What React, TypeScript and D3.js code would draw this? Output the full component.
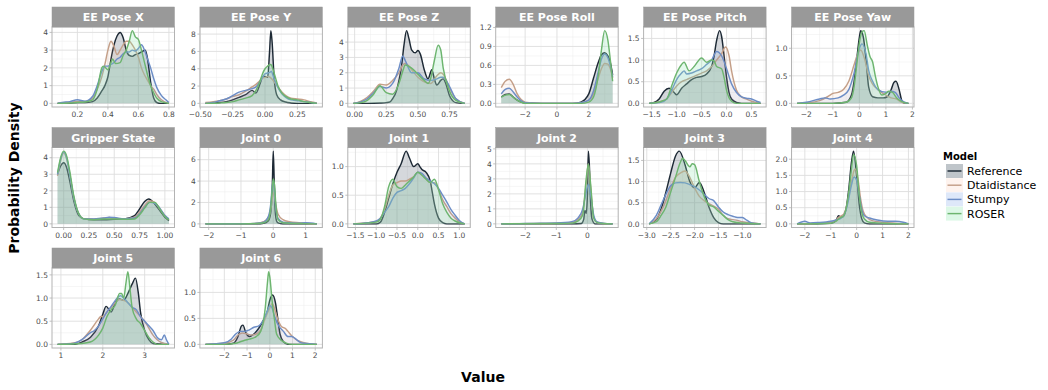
import React from "react";
import * as d3 from "d3";

type Pt = [number, number];

// models, drawn in this order
const models = ["Reference", "Dtaidistance", "Stumpy", "ROSER"];
const lineColors = ["#1d2935", "#c49f88", "#6c8dc6", "#6db56f"];
const fillColors = ["#2c3e50", "#f5b08a", "#5b8ee0", "#90e8b0"];
const fillAlpha = [0.2, 0.1, 0.09, 0.24];
const keyAlpha = [0.3, 0.15, 0.2, 0.3];

// ---- EE Pose X ----
const poseXRef: Pt[] = [[0.07,0],[0.1,0.01],[0.15,0.02],[0.2,0.05],[0.25,0.05],[0.3,0.1],[0.33,0.3],[0.36,0.7],[0.38,1.0],[0.4,1.5],[0.42,2.5],[0.44,3.3],[0.46,3.8],[0.48,4.0],[0.5,3.7],[0.52,3.0],[0.54,2.7],[0.56,2.65],[0.58,2.75],[0.6,2.8],[0.62,2.9],[0.645,3.0],[0.66,2.5],[0.68,1.2],[0.7,0.3],[0.72,0.05],[0.75,0],[0.8,0]];
const poseXDtw: Pt[] = [[0.07,0],[0.1,0.03],[0.15,0.06],[0.2,0.1],[0.25,0.1],[0.3,0.3],[0.33,0.8],[0.36,1.5],[0.38,2.2],[0.4,3.0],[0.42,3.5],[0.44,3.2],[0.46,2.75],[0.48,3.0],[0.5,3.3],[0.52,3.5],[0.54,3.5],[0.56,3.3],[0.58,3.0],[0.6,2.6],[0.62,2.0],[0.64,1.6],[0.66,1.3],[0.68,1.0],[0.7,0.8],[0.72,0.5],[0.75,0.2],[0.8,0]];
const poseXStumpy: Pt[] = [[0.07,0],[0.1,0.05],[0.15,0.1],[0.2,0.2],[0.25,0.12],[0.3,0.4],[0.33,1.0],[0.36,1.8],[0.38,2.1],[0.4,2.1],[0.42,2.2],[0.44,2.3],[0.46,2.5],[0.48,2.6],[0.5,2.8],[0.52,2.9],[0.54,2.9],[0.56,3.0],[0.58,2.95],[0.6,3.1],[0.62,3.3],[0.64,3.0],[0.66,2.5],[0.68,2.0],[0.7,1.4],[0.72,0.9],[0.75,0.45],[0.78,0.2],[0.8,0.05]];
const poseXRoser: Pt[] = [[0.07,0],[0.15,0.02],[0.2,0.05],[0.25,0.08],[0.3,0.2],[0.33,0.8],[0.36,2.0],[0.37,2.1],[0.38,2.05],[0.4,1.9],[0.42,2.3],[0.43,2.5],[0.45,2.25],[0.48,2.3],[0.5,2.7],[0.52,3.0],[0.54,3.5],[0.56,4.1],[0.58,3.75],[0.6,3.6],[0.62,3.0],[0.64,2.3],[0.66,1.6],[0.68,1.0],[0.7,0.6],[0.72,0.3],[0.75,0.1],[0.8,0]];

// ---- EE Pose Y ----
const poseYRef: Pt[] = [[-0.46,0],[-0.4,0.05],[-0.35,0.1],[-0.3,0.2],[-0.25,0.4],[-0.2,0.7],[-0.15,1.0],[-0.1,1.5],[-0.07,1.2],[-0.04,2.2],[-0.02,3.0],[0,3.1],[0.02,3.0],[0.035,6.0],[0.045,8.4],[0.055,7.0],[0.07,3.0],[0.09,1.0],[0.12,0.4],[0.16,0.15],[0.2,0.05],[0.25,0],[0.4,0]];
const poseYDtw: Pt[] = [[-0.46,0.1],[-0.4,0.2],[-0.35,0.3],[-0.3,0.5],[-0.25,0.8],[-0.2,1.0],[-0.15,1.4],[-0.1,1.9],[-0.07,2.2],[-0.04,2.6],[-0.02,2.9],[0,3.0],[0.02,3.1],[0.04,3.0],[0.06,2.7],[0.08,2.3],[0.1,1.9],[0.13,1.3],[0.16,0.9],[0.2,0.6],[0.25,0.5],[0.3,0.4],[0.35,0.2],[0.4,0.05]];
const poseYStumpy: Pt[] = [[-0.46,0],[-0.4,0.1],[-0.35,0.3],[-0.3,0.5],[-0.25,0.9],[-0.2,1.3],[-0.15,1.5],[-0.1,1.7],[-0.07,1.9],[-0.04,2.5],[-0.02,3.0],[0,3.4],[0.02,3.5],[0.04,3.6],[0.05,3.7],[0.06,3.3],[0.08,2.5],[0.1,1.8],[0.13,1.1],[0.16,0.7],[0.2,0.4],[0.25,0.3],[0.3,0.2],[0.35,0.1],[0.4,0]];
const poseYRoser: Pt[] = [[-0.46,0],[-0.35,0.05],[-0.3,0.1],[-0.25,0.2],[-0.2,0.4],[-0.15,0.6],[-0.1,0.9],[-0.07,1.5],[-0.04,2.5],[-0.02,3.4],[0,4.0],[0.02,4.3],[0.04,4.5],[0.05,4.4],[0.06,4.0],[0.08,3.0],[0.1,2.0],[0.13,1.2],[0.16,0.8],[0.2,0.5],[0.25,0.4],[0.3,0.2],[0.35,0.1],[0.4,0]];

// ---- EE Pose Z ----
const poseZRef: Pt[] = [[-0.01,0],[0.1,0],[0.2,0.02],[0.25,0.05],[0.28,0.1],[0.3,0.3],[0.33,0.8],[0.35,1.5],[0.37,2.4],[0.39,3.8],[0.41,4.75],[0.43,4.2],[0.45,3.5],[0.48,3.3],[0.5,3.45],[0.52,3.2],[0.55,2.2],[0.58,1.6],[0.61,2.2],[0.63,1.6],[0.65,1.2],[0.68,1.5],[0.7,1.6],[0.72,1.3],[0.75,0.5],[0.8,0.05],[0.87,0]];
const poseZDtw: Pt[] = [[-0.01,0],[0.05,0.15],[0.1,0.4],[0.15,0.8],[0.2,1.25],[0.25,1.2],[0.3,1.5],[0.35,2.0],[0.38,2.5],[0.4,2.6],[0.45,2.2],[0.5,1.7],[0.55,1.4],[0.6,1.3],[0.65,1.8],[0.68,2.0],[0.7,1.9],[0.75,1.0],[0.8,0.3],[0.87,0]];
const poseZStumpy: Pt[] = [[-0.01,0],[0.05,0.1],[0.1,0.3],[0.15,0.7],[0.2,1.1],[0.25,1.0],[0.3,1.3],[0.35,2.3],[0.38,3.1],[0.4,2.8],[0.45,2.0],[0.5,2.0],[0.55,1.6],[0.6,1.5],[0.65,1.6],[0.68,1.7],[0.7,1.7],[0.75,1.1],[0.8,0.3],[0.87,0]];
const poseZRoser: Pt[] = [[-0.01,0],[0.05,0.05],[0.1,0.2],[0.15,0.6],[0.2,1.15],[0.25,0.7],[0.3,0.6],[0.35,1.3],[0.38,2.1],[0.4,2.5],[0.45,2.3],[0.5,1.9],[0.55,1.5],[0.58,1.3],[0.6,1.6],[0.63,2.8],[0.66,3.8],[0.68,3.5],[0.7,2.3],[0.75,0.8],[0.8,0.2],[0.87,0]];

// ---- EE Pose Roll ----
const rollRef: Pt[] = [[-3.5,0.1],[-3.25,0.14],[-3.0,0.15],[-2.75,0.1],[-2.5,0.05],[-2.25,0.02],[-2,0.01],[-1,0],[0,0],[1,0],[1.5,0.02],[2,0.15],[2.3,0.4],[2.6,0.65],[2.8,0.77],[3.0,0.8],[3.2,0.75],[3.35,0.65],[3.5,0.45]];
const rollDtw: Pt[] = [[-3.5,0.25],[-3.25,0.35],[-3.0,0.38],[-2.75,0.3],[-2.5,0.15],[-2.25,0.06],[-2,0.02],[-1,0],[0,0],[1,0],[1.5,0.01],[2,0.05],[2.3,0.15],[2.6,0.4],[2.8,0.55],[3.0,0.63],[3.2,0.62],[3.35,0.55],[3.5,0.4]];
const rollStumpy: Pt[] = [[-3.5,0.15],[-3.25,0.22],[-3.0,0.24],[-2.75,0.18],[-2.5,0.1],[-2.25,0.04],[-2,0.01],[-1,0],[0,0],[1,0],[1.5,0.01],[2,0.05],[2.3,0.2],[2.6,0.5],[2.8,0.7],[3.0,0.78],[3.2,0.72],[3.35,0.6],[3.5,0.42]];
const rollRoser: Pt[] = [[-3.5,0.1],[-3.25,0.13],[-3.0,0.14],[-2.75,0.1],[-2.5,0.05],[-2.25,0.02],[-2,0],[0,0],[1.5,0],[2,0.02],[2.3,0.1],[2.6,0.45],[2.8,0.85],[3.0,1.15],[3.2,1.0],[3.35,0.7],[3.5,0.35]];

// ---- EE Pose Pitch ----
const pitchRef: Pt[] = [[-1.55,0],[-1.45,0.02],[-1.35,0.1],[-1.25,0.28],[-1.15,0.35],[-1.05,0.25],[-1.0,0.2],[-0.9,0.35],[-0.8,0.45],[-0.7,0.55],[-0.6,0.6],[-0.5,0.62],[-0.4,0.68],[-0.3,0.85],[-0.25,1.1],[-0.2,1.45],[-0.14,1.68],[-0.1,1.55],[-0.05,1.1],[0,0.6],[0.05,0.25],[0.1,0.1],[0.2,0.02],[0.3,0],[0.68,0]];
const pitchDtw: Pt[] = [[-1.55,0],[-1.3,0.05],[-1.2,0.1],[-1.1,0.25],[-1.0,0.4],[-0.9,0.5],[-0.8,0.55],[-0.7,0.6],[-0.6,0.65],[-0.5,0.7],[-0.4,0.75],[-0.3,0.85],[-0.2,1.0],[-0.1,1.15],[-0.02,1.3],[0.05,1.1],[0.1,0.75],[0.2,0.3],[0.3,0.15],[0.4,0.1],[0.5,0.05],[0.68,0]];
const pitchStumpy: Pt[] = [[-1.55,0],[-1.3,0.03],[-1.2,0.1],[-1.1,0.3],[-1.0,0.55],[-0.9,0.7],[-0.85,0.75],[-0.8,0.68],[-0.7,0.7],[-0.6,0.75],[-0.5,0.8],[-0.4,0.9],[-0.3,1.0],[-0.2,1.2],[-0.1,1.1],[0,0.8],[0.1,0.45],[0.2,0.25],[0.3,0.15],[0.4,0.12],[0.5,0.1],[0.6,0.05],[0.68,0.02]];
const pitchRoser: Pt[] = [[-1.55,0],[-1.3,0.05],[-1.2,0.1],[-1.1,0.4],[-1.0,0.7],[-0.9,0.9],[-0.85,0.95],[-0.75,0.75],[-0.65,0.85],[-0.5,1.05],[-0.4,0.95],[-0.3,1.0],[-0.25,0.98],[-0.2,0.85],[-0.1,0.8],[-0.05,0.6],[0,0.3],[0.1,0.05],[0.2,0],[0.68,0]];

// ---- EE Pose Yaw ----
const yawRef: Pt[] = [[-2.35,0],[-1,0],[-0.5,0.02],[-0.3,0.15],[-0.2,0.4],[-0.1,0.8],[0,1.2],[0.05,1.32],[0.15,1.2],[0.25,0.8],[0.35,0.3],[0.5,0.12],[0.7,0.1],[0.9,0.1],[1.05,0.12],[1.2,0.25],[1.3,0.38],[1.38,0.4],[1.5,0.25],[1.6,0.05],[1.7,0],[1.85,0]];
const yawDtw: Pt[] = [[-2.35,0],[-2,0.01],[-1.5,0.05],[-1.2,0.12],[-1.0,0.18],[-0.8,0.2],[-0.6,0.25],[-0.4,0.4],[-0.2,0.7],[-0.1,0.85],[0.05,0.97],[0.2,0.8],[0.35,0.5],[0.5,0.35],[0.7,0.25],[1.0,0.15],[1.2,0.1],[1.4,0.08],[1.6,0.02],[1.85,0]];
const yawStumpy: Pt[] = [[-2.35,0],[-2,0.02],[-1.5,0.08],[-1.3,0.1],[-1.1,0.08],[-0.8,0.1],[-0.6,0.15],[-0.4,0.25],[-0.2,0.55],[0,1.0],[0.1,1.08],[0.25,0.9],[0.35,0.6],[0.5,0.4],[0.7,0.25],[1.0,0.2],[1.2,0.22],[1.35,0.2],[1.5,0.1],[1.7,0.02],[1.85,0]];
const yawRoser: Pt[] = [[-2.35,0],[-1,0],[-0.5,0.02],[-0.3,0.1],[-0.2,0.3],[-0.1,0.7],[0,1.1],[0.1,1.3],[0.18,1.32],[0.3,1.05],[0.4,0.85],[0.5,0.75],[0.6,0.5],[0.7,0.3],[0.85,0.15],[1.0,0.18],[1.1,0.22],[1.25,0.2],[1.4,0.1],[1.6,0.03],[1.85,0]];

// ---- Gripper State ----
const gripRef: Pt[] = [[-0.06,3.0],[-0.03,3.5],[0,3.7],[0.03,3.4],[0.06,2.6],[0.1,1.4],[0.15,0.5],[0.2,0.3],[0.3,0.25],[0.4,0.25],[0.5,0.28],[0.6,0.3],[0.7,0.5],[0.75,0.9],[0.8,1.35],[0.84,1.5],[0.9,1.2],[0.95,0.8],[1.0,0.4],[1.04,0.2]];
const gripDtw: Pt[] = [[-0.06,2.9],[-0.03,3.8],[0,4.3],[0.03,3.9],[0.06,3.0],[0.1,1.6],[0.15,0.6],[0.2,0.3],[0.3,0.3],[0.4,0.35],[0.45,0.38],[0.5,0.35],[0.6,0.3],[0.7,0.4],[0.75,0.7],[0.8,1.1],[0.85,1.4],[0.9,1.3],[0.95,0.9],[1.0,0.5],[1.04,0.25]];
const gripStumpy: Pt[] = [[-0.06,3.0],[-0.03,3.9],[0,4.35],[0.03,4.0],[0.06,3.0],[0.1,1.6],[0.15,0.6],[0.2,0.3],[0.3,0.3],[0.4,0.35],[0.45,0.4],[0.5,0.38],[0.6,0.3],[0.7,0.35],[0.75,0.6],[0.8,1.0],[0.85,1.3],[0.9,1.25],[0.95,0.95],[1.0,0.5],[1.04,0.3]];
const gripRoser: Pt[] = [[-0.06,3.1],[-0.03,4.0],[0,4.4],[0.03,4.1],[0.06,3.2],[0.1,1.7],[0.15,0.6],[0.2,0.3],[0.3,0.25],[0.4,0.3],[0.5,0.3],[0.6,0.28],[0.7,0.3],[0.75,0.55],[0.8,0.95],[0.85,1.3],[0.9,1.3],[0.95,0.9],[1.0,0.45],[1.04,0.25]];

// ---- Joint 0 ----
const j0Ref: Pt[] = [[-2.1,0],[-0.5,0],[-0.3,0.05],[-0.15,0.3],[-0.08,1.0],[-0.03,3.5],[0,6.8],[0.03,4.0],[0.06,1.2],[0.1,0.3],[0.15,0.1],[0.3,0],[1.35,0]];
const j0Dtw: Pt[] = [[-2.1,0],[-1,0.02],[-0.5,0.05],[-0.3,0.2],[-0.15,0.6],[-0.08,1.3],[-0.03,2.3],[0,2.9],[0.04,2.6],[0.08,1.8],[0.15,0.9],[0.3,0.4],[0.5,0.2],[0.8,0.1],[1.0,0.05],[1.35,0]];
const j0Stumpy: Pt[] = [[-2.1,0],[-1,0.02],[-0.5,0.05],[-0.3,0.15],[-0.15,0.7],[-0.08,1.8],[-0.03,3.5],[0,4.0],[0.04,3.2],[0.08,1.5],[0.15,0.5],[0.3,0.15],[0.5,0.1],[0.8,0.05],[1.0,0.1],[1.35,0]];
const j0Roser: Pt[] = [[-2.1,0],[-1,0],[-0.5,0.03],[-0.3,0.1],[-0.15,0.4],[-0.08,1.5],[-0.03,3.3],[0,4.2],[0.04,3.6],[0.08,1.8],[0.15,0.4],[0.3,0.1],[0.5,0.05],[1.0,0.02],[1.35,0]];

// ---- Joint 1 ----
const j1Ref: Pt[] = [[-1.55,0],[-1.0,0],[-0.9,0.03],[-0.8,0.2],[-0.7,0.45],[-0.6,0.7],[-0.5,0.9],[-0.4,1.05],[-0.28,1.27],[-0.2,1.15],[-0.1,1.0],[0,1.05],[0.05,1.0],[0.1,0.95],[0.2,0.9],[0.3,0.75],[0.35,0.55],[0.4,0.35],[0.5,0.1],[0.6,0.02],[0.7,0],[1.13,0]];
const j1Dtw: Pt[] = [[-1.55,0],[-1.2,0.02],[-1.0,0.04],[-0.9,0.1],[-0.8,0.25],[-0.7,0.5],[-0.6,0.68],[-0.5,0.72],[-0.4,0.75],[-0.3,0.75],[-0.2,0.78],[-0.1,0.82],[0,0.9],[0.1,0.85],[0.2,0.78],[0.3,0.72],[0.4,0.72],[0.5,0.6],[0.6,0.42],[0.7,0.3],[0.8,0.18],[0.9,0.1],[1.0,0.04],[1.13,0]];
const j1Stumpy: Pt[] = [[-1.55,0],[-1.2,0.02],[-1.0,0.05],[-0.9,0.1],[-0.8,0.2],[-0.7,0.3],[-0.6,0.45],[-0.5,0.55],[-0.4,0.58],[-0.3,0.62],[-0.2,0.7],[-0.1,0.8],[0,0.9],[0.1,0.88],[0.2,0.8],[0.3,0.75],[0.4,0.7],[0.5,0.62],[0.6,0.5],[0.7,0.38],[0.8,0.25],[0.9,0.15],[1.0,0.06],[1.13,0]];
const j1Roser: Pt[] = [[-1.55,0],[-1.0,0.03],[-0.9,0.08],[-0.8,0.3],[-0.7,0.65],[-0.6,0.78],[-0.5,0.65],[-0.4,0.62],[-0.3,0.68],[-0.2,0.75],[-0.1,0.82],[0,0.9],[0.1,0.85],[0.2,0.78],[0.3,0.72],[0.4,0.78],[0.5,0.6],[0.6,0.35],[0.7,0.2],[0.8,0.1],[0.9,0.05],[1.0,0.02],[1.13,0]];

// ---- Joint 2 ----
const j2Ref: Pt[] = [[-2.77,0],[-0.5,0],[-0.2,0.02],[-0.12,0.3],[-0.08,0.9],[-0.04,0.7],[0,2.0],[0.03,4.85],[0.06,4.0],[0.1,1.5],[0.15,0.3],[0.25,0],[0.81,0]];
const j2Dtw: Pt[] = [[-2.77,0],[-1.5,0.02],[-1,0.04],[-0.5,0.1],[-0.3,0.3],[-0.15,0.8],[-0.05,2.5],[0.03,4.0],[0.1,2.5],[0.2,0.4],[0.3,0.1],[0.5,0.02],[0.81,0]];
const j2Stumpy: Pt[] = [[-2.77,0],[-2,0.02],[-1.5,0.04],[-1,0.06],[-0.5,0.15],[-0.3,0.4],[-0.15,1.0],[-0.05,2.0],[0.03,2.65],[0.1,2.0],[0.2,0.6],[0.3,0.15],[0.5,0.05],[0.81,0]];
const j2Roser: Pt[] = [[-2.77,0],[-1,0.02],[-0.5,0.05],[-0.3,0.2],[-0.15,0.6],[-0.05,2.8],[0.03,4.0],[0.1,2.7],[0.2,0.4],[0.3,0.1],[0.5,0.02],[0.81,0]];

// ---- Joint 3 ----
const j3Ref: Pt[] = [[-2.95,0],[-2.8,0.1],[-2.7,0.35],[-2.6,0.75],[-2.5,1.2],[-2.4,1.6],[-2.32,1.72],[-2.2,1.4],[-2.1,1.0],[-2.0,0.85],[-1.9,0.98],[-1.8,0.75],[-1.7,0.4],[-1.6,0.15],[-1.5,0.03],[-1.4,0],[-0.62,0]];
const j3Dtw: Pt[] = [[-2.95,0],[-2.8,0.12],[-2.7,0.3],[-2.6,0.55],[-2.5,0.85],[-2.4,1.1],[-2.3,1.2],[-2.2,1.25],[-2.1,1.1],[-2.0,0.85],[-1.9,0.65],[-1.8,0.55],[-1.7,0.48],[-1.6,0.42],[-1.5,0.35],[-1.4,0.2],[-1.3,0.12],[-1.2,0.1],[-1.1,0.08],[-1.0,0.05],[-0.8,0.02],[-0.62,0]];
const j3Stumpy: Pt[] = [[-2.95,0],[-2.8,0.2],[-2.7,0.45],[-2.6,0.7],[-2.5,0.9],[-2.4,0.97],[-2.3,0.98],[-2.2,0.97],[-2.1,0.93],[-2.0,0.88],[-1.9,0.8],[-1.8,0.7],[-1.7,0.6],[-1.6,0.55],[-1.5,0.4],[-1.4,0.28],[-1.3,0.22],[-1.2,0.18],[-1.1,0.15],[-1.0,0.15],[-0.9,0.08],[-0.8,0.02],[-0.62,0]];
const j3Roser: Pt[] = [[-2.95,0],[-2.8,0.05],[-2.7,0.2],[-2.6,0.4],[-2.5,0.75],[-2.4,1.1],[-2.3,1.45],[-2.25,1.55],[-2.2,1.5],[-2.1,1.35],[-2.05,1.42],[-2.0,1.4],[-1.9,1.0],[-1.8,0.65],[-1.7,0.45],[-1.6,0.4],[-1.5,0.3],[-1.4,0.2],[-1.3,0.1],[-1.2,0.05],[-1.0,0.02],[-0.62,0]];

// ---- Joint 4 ----
const j4Ref: Pt[] = [[-2.3,0],[-1,0.02],[-0.8,0.1],[-0.7,0.25],[-0.6,0.2],[-0.5,0.25],[-0.4,0.5],[-0.3,1.1],[-0.2,1.9],[-0.12,2.25],[0,1.5],[0.1,0.6],[0.2,0.15],[0.3,0.03],[0.5,0],[2.0,0]];
const j4Dtw: Pt[] = [[-2.3,0],[-1.5,0.02],[-1,0.05],[-0.8,0.12],[-0.7,0.2],[-0.6,0.25],[-0.5,0.3],[-0.4,0.5],[-0.3,0.9],[-0.2,1.3],[-0.1,1.65],[-0.05,1.7],[0.05,1.4],[0.15,0.8],[0.25,0.4],[0.4,0.2],[0.6,0.1],[1.0,0.05],[1.5,0.02],[2.0,0]];
const j4Stumpy: Pt[] = [[-2.3,0],[-2.0,0.08],[-1.8,0.03],[-1.5,0.04],[-1,0.08],[-0.8,0.12],[-0.6,0.18],[-0.5,0.25],[-0.4,0.45],[-0.3,0.8],[-0.2,1.2],[-0.1,1.45],[0,1.35],[0.1,0.9],[0.2,0.45],[0.3,0.25],[0.5,0.18],[0.8,0.12],[1.2,0.08],[1.5,0.08],[1.8,0.05],[2.0,0]];
const j4Roser: Pt[] = [[-2.3,0],[-1,0.02],[-0.8,0.08],[-0.7,0.15],[-0.6,0.2],[-0.5,0.25],[-0.4,0.5],[-0.3,1.0],[-0.2,1.7],[-0.12,2.15],[0,1.8],[0.1,0.9],[0.2,0.35],[0.3,0.15],[0.5,0.05],[1.0,0.02],[2.0,0]];

// ---- Joint 5 ----
const j5Ref: Pt[] = [[0.92,0],[1.3,0],[1.5,0.05],[1.7,0.15],[1.9,0.4],[2.0,0.65],[2.08,0.82],[2.2,0.7],[2.3,0.9],[2.4,0.98],[2.5,0.95],[2.6,1.1],[2.7,1.3],[2.78,1.43],[2.85,1.1],[2.9,0.7],[3.0,0.3],[3.1,0.1],[3.2,0.02],[3.58,0]];
const j5Dtw: Pt[] = [[0.92,0],[1.3,0.03],[1.5,0.1],[1.7,0.3],[1.9,0.55],[1.95,0.6],[2.0,0.6],[2.1,0.7],[2.2,0.8],[2.3,0.9],[2.4,0.97],[2.5,0.95],[2.6,0.9],[2.7,0.8],[2.8,0.7],[2.9,0.6],[3.0,0.5],[3.1,0.35],[3.2,0.2],[3.3,0.1],[3.4,0.04],[3.58,0]];
const j5Stumpy: Pt[] = [[0.92,0],[1.3,0.02],[1.5,0.1],[1.7,0.25],[1.8,0.3],[1.9,0.4],[2.0,0.55],[2.1,0.7],[2.2,0.82],[2.3,0.95],[2.42,1.05],[2.5,1.0],[2.6,0.9],[2.7,0.8],[2.8,0.75],[2.9,0.6],[3.0,0.5],[3.1,0.4],[3.2,0.3],[3.3,0.15],[3.4,0.1],[3.47,0.2],[3.52,0.1],[3.58,0]];
const j5Roser: Pt[] = [[0.92,0],[1.5,0.02],[1.7,0.05],[1.9,0.2],[2.0,0.35],[2.1,0.6],[2.2,0.75],[2.3,0.85],[2.4,1.1],[2.45,1.1],[2.5,1.0],[2.55,1.3],[2.6,1.57],[2.65,1.2],[2.7,0.8],[2.8,0.55],[2.9,0.45],[3.0,0.3],[3.1,0.15],[3.2,0.05],[3.3,0],[3.58,0]];

// ---- Joint 6 ----
const j6Ref: Pt[] = [[-2.83,0],[-2,0],[-1.6,0.02],[-1.4,0.15],[-1.25,0.35],[-1.18,0.37],[-1.05,0.22],[-0.9,0.15],[-0.7,0.2],[-0.5,0.3],[-0.3,0.45],[-0.1,0.65],[0,0.85],[0.12,0.95],[0.25,0.8],[0.35,0.5],[0.45,0.2],[0.6,0.05],[0.8,0],[2.07,0]];
const j6Dtw: Pt[] = [[-2.83,0],[-2,0.02],[-1.6,0.08],[-1.4,0.18],[-1.2,0.22],[-1.0,0.2],[-0.8,0.18],[-0.6,0.2],[-0.4,0.28],[-0.2,0.5],[0,0.7],[0.1,0.78],[0.2,0.7],[0.3,0.55],[0.5,0.35],[0.7,0.3],[0.8,0.25],[1.0,0.15],[1.2,0.08],[1.5,0.03],[2.07,0]];
const j6Stumpy: Pt[] = [[-2.83,0],[-2,0.03],[-1.7,0.1],[-1.5,0.2],[-1.3,0.25],[-1.1,0.25],[-0.9,0.28],[-0.7,0.33],[-0.5,0.35],[-0.3,0.45],[-0.1,0.65],[0,0.75],[0.1,0.7],[0.2,0.55],[0.4,0.35],[0.6,0.25],[0.8,0.15],[0.95,0.15],[1.1,0.12],[1.3,0.05],[1.5,0.02],[2.07,0]];
const j6Roser: Pt[] = [[-2.83,0],[-2,0],[-1.5,0.02],[-1.3,0.05],[-1.1,0.08],[-0.9,0.1],[-0.6,0.15],[-0.4,0.25],[-0.3,0.4],[-0.2,0.7],[-0.1,1.2],[-0.05,1.4],[0,1.3],[0.1,0.85],[0.2,0.5],[0.3,0.2],[0.5,0.08],[0.7,0.03],[1.0,0],[2.07,0]];

const panels = [
  { title: "EE Pose X", series: [poseXRef, poseXDtw, poseXStumpy, poseXRoser], xTicks: [0.2, 0.4, 0.6, 0.8], xFmt: ".1f", yTicks: [0, 1, 2, 3, 4], yFmt: "d" },
  { title: "EE Pose Y", series: [poseYRef, poseYDtw, poseYStumpy, poseYRoser], xTicks: [-0.5, -0.25, 0, 0.25], xFmt: ".2f", yTicks: [0, 2, 4, 6, 8], yFmt: "d" },
  { title: "EE Pose Z", series: [poseZRef, poseZDtw, poseZStumpy, poseZRoser], xTicks: [0, 0.25, 0.5, 0.75], xFmt: ".2f", yTicks: [0, 1, 2, 3, 4], yFmt: "d" },
  { title: "EE Pose Roll", series: [rollRef, rollDtw, rollStumpy, rollRoser], xTicks: [-2, 0, 2], xFmt: "d", yTicks: [0, 0.3, 0.6, 0.9, 1.2], yFmt: ".1f" },
  { title: "EE Pose Pitch", series: [pitchRef, pitchDtw, pitchStumpy, pitchRoser], xTicks: [-1.5, -1, -0.5, 0, 0.5], xFmt: ".1f", yTicks: [0, 0.5, 1, 1.5], yFmt: ".1f" },
  { title: "EE Pose Yaw", series: [yawRef, yawDtw, yawStumpy, yawRoser], xTicks: [-2, -1, 0, 1, 2], xFmt: "d", yTicks: [0, 0.5, 1], yFmt: ".1f" },
  { title: "Gripper State", series: [gripRef, gripDtw, gripStumpy, gripRoser], xTicks: [0, 0.25, 0.5, 0.75, 1], xFmt: ".2f", yTicks: [0, 1, 2, 3, 4], yFmt: "d" },
  { title: "Joint 0", series: [j0Ref, j0Dtw, j0Stumpy, j0Roser], xTicks: [-2, -1, 0, 1], xFmt: "d", yTicks: [0, 2, 4, 6], yFmt: "d" },
  { title: "Joint 1", series: [j1Ref, j1Dtw, j1Stumpy, j1Roser], xTicks: [-1.5, -1, -0.5, 0, 0.5, 1], xFmt: ".1f", yTicks: [0, 0.5, 1], yFmt: ".1f" },
  { title: "Joint 2", series: [j2Ref, j2Dtw, j2Stumpy, j2Roser], xTicks: [-2, -1, 0], xFmt: "d", yTicks: [0, 1, 2, 3, 4, 5], yFmt: "d" },
  { title: "Joint 3", series: [j3Ref, j3Dtw, j3Stumpy, j3Roser], xTicks: [-3, -2.5, -2, -1.5, -1], xFmt: ".1f", yTicks: [0, 0.5, 1, 1.5], yFmt: ".1f" },
  { title: "Joint 4", series: [j4Ref, j4Dtw, j4Stumpy, j4Roser], xTicks: [-2, -1, 0, 1, 2], xFmt: "d", yTicks: [0, 0.5, 1, 1.5, 2], yFmt: ".1f" },
  { title: "Joint 5", series: [j5Ref, j5Dtw, j5Stumpy, j5Roser], xTicks: [1, 2, 3], xFmt: "d", yTicks: [0, 0.5, 1, 1.5], yFmt: ".1f" },
  { title: "Joint 6", series: [j6Ref, j6Dtw, j6Stumpy, j6Roser], xTicks: [-2, -1, 0, 1, 2], xFmt: "d", yTicks: [0, 0.5, 1], yFmt: ".1f" },
];

const W = 1048;
const H = 390;
const COLS = 6;
const LEFT = 52;
const COL_STEP = 147.9;
const PANEL_W = 122.5;
const TOP = 7;
const ROW_STEP = 120.5;
const STRIP_H = 20;
const PLOT_H = 80;
const FONT = "DejaVu Sans, Verdana, sans-serif";

const minors = (ticks: number[], lo: number, hi: number) => {
  const step = ticks[1] - ticks[0];
  const out: number[] = [];
  for (let i = -1; i < ticks.length; i++) {
    const v = (i < 0 ? ticks[0] - step : ticks[i]) + step / 2;
    if (v > lo && v < hi) out.push(v);
  }
  return out;
};

function Panel({ p, idx }: { p: (typeof panels)[number]; idx: number }) {
  const col = idx % COLS;
  const row = Math.floor(idx / COLS);
  const x0 = LEFT + col * COL_STEP;
  const stripTop = TOP + row * ROW_STEP;
  const top = stripTop + STRIP_H;
  const bottom = top + PLOT_H;

  const all = p.series.flat();
  const [xmin, xmax] = d3.extent(all, (d) => d[0]) as [number, number];
  const ymax = d3.max(all, (d) => d[1]) as number;
  const xpad = (xmax - xmin) * 0.05;
  const x = d3.scaleLinear().domain([xmin - xpad, xmax + xpad]).range([x0, x0 + PANEL_W]);
  const y = d3.scaleLinear().domain([-ymax * 0.05, ymax * 1.05]).range([bottom, top]);

  const area = d3.area<Pt>().x((d) => x(d[0])).y0(y(0)).y1((d) => y(d[1])).curve(d3.curveMonotoneX);
  const line = d3.line<Pt>().x((d) => x(d[0])).y((d) => y(d[1])).curve(d3.curveMonotoneX);
  const xf = d3.format(p.xFmt);
  const yf = d3.format(p.yFmt);
  const xd = x.domain();
  const yd = y.domain();
  const clipId = `clip-${idx}`;

  return (
    <g>
      <defs>
        <clipPath id={clipId}>
          <rect x={x0} y={top} width={PANEL_W} height={PLOT_H} />
        </clipPath>
      </defs>
      <rect x={x0} y={top} width={PANEL_W} height={PLOT_H} fill="#ffffff" />
      {minors(p.xTicks, xd[0], xd[1]).map((v) => (
        <line key={`mx${v}`} x1={x(v)} x2={x(v)} y1={top} y2={bottom} stroke="#ececec" strokeWidth={0.5} />
      ))}
      {minors(p.yTicks, yd[0], yd[1]).map((v) => (
        <line key={`my${v}`} x1={x0} x2={x0 + PANEL_W} y1={y(v)} y2={y(v)} stroke="#ececec" strokeWidth={0.5} />
      ))}
      {p.xTicks.map((v) => (
        <line key={`gx${v}`} x1={x(v)} x2={x(v)} y1={top} y2={bottom} stroke="#dedede" strokeWidth={0.9} />
      ))}
      {p.yTicks.map((v) => (
        <line key={`gy${v}`} x1={x0} x2={x0 + PANEL_W} y1={y(v)} y2={y(v)} stroke="#dedede" strokeWidth={0.9} />
      ))}
      <g clipPath={`url(#${clipId})`}>
        {p.series.map((s, i) => (
          <g key={models[i]}>
            <path d={area(s) ?? ""} fill={fillColors[i]} fillOpacity={fillAlpha[i]} />
            <path d={line(s) ?? ""} fill="none" stroke={lineColors[i]} strokeWidth={1.45} />
          </g>
        ))}
      </g>
      <rect x={x0} y={top} width={PANEL_W} height={PLOT_H} fill="none" stroke="#b3b3b3" strokeWidth={1} />
      <rect x={x0} y={stripTop} width={PANEL_W} height={STRIP_H} fill="#999999" stroke="#999999" strokeWidth={0.5} />
      <text x={x0 + PANEL_W / 2} y={stripTop + STRIP_H / 2 + 4} textAnchor="middle" fill="#ffffff" fontFamily={FONT} fontWeight="bold" fontSize={11}>
        {p.title}
      </text>
      {p.xTicks.map((v) => (
        <g key={`tx${v}`}>
          <line x1={x(v)} x2={x(v)} y1={bottom} y2={bottom + 2.5} stroke="#b3b3b3" strokeWidth={0.8} />
          <text x={x(v)} y={bottom + 10} textAnchor="middle" fill="#4d4d4d" fontFamily={FONT} fontSize={7.5}>
            {xf(v)}
          </text>
        </g>
      ))}
      {p.yTicks.map((v) => (
        <g key={`ty${v}`}>
          <line x1={x0 - 2.5} x2={x0} y1={y(v)} y2={y(v)} stroke="#b3b3b3" strokeWidth={0.8} />
          <text x={x0 - 4} y={y(v) + 2.7} textAnchor="end" fill="#4d4d4d" fontFamily={FONT} fontSize={7.5}>
            {yf(v)}
          </text>
        </g>
      ))}
    </g>
  );
}

function Legend() {
  const lx = 943;
  const ly = 157;
  return (
    <g>
      <text x={lx} y={ly + 3} fontFamily={FONT} fontWeight="bold" fontSize={10} fill="#000">
        Model
      </text>
      {models.map((m, i) => {
        const cy = ly + 14 + i * 14.2;
        return (
          <g key={m}>
            <rect x={lx + 3} y={cy - 7} width={17} height={14} fill="#ffffff" />
            <rect x={lx + 3} y={cy - 7} width={17} height={14} fill={fillColors[i]} fillOpacity={keyAlpha[i]} />
            <line x1={lx + 4.5} x2={lx + 18.5} y1={cy} y2={cy} stroke={lineColors[i]} strokeWidth={1.45} />
            <text x={lx + 24} y={cy + 4} fontFamily={FONT} fontSize={11} fill="#000">
              {m}
            </text>
          </g>
        );
      })}
    </g>
  );
}

export default function App() {
  return (
    <svg width={W} height={H} style={{ position: "absolute", left: 0, top: 0, background: "#ffffff" }}>
      <rect x={0} y={0} width={W} height={H} fill="#ffffff" />
      {panels.map((p, i) => (
        <Panel key={p.title} p={p} idx={i} />
      ))}
      <Legend />
      <text x={483} y={382} textAnchor="middle" fontFamily={FONT} fontWeight="bold" fontSize={14} fill="#000">
        Value
      </text>
      <text transform="translate(19,178) rotate(-90)" textAnchor="middle" fontFamily={FONT} fontWeight="bold" fontSize={14} fill="#000">
        Probability Density
      </text>
    </svg>
  );
}
